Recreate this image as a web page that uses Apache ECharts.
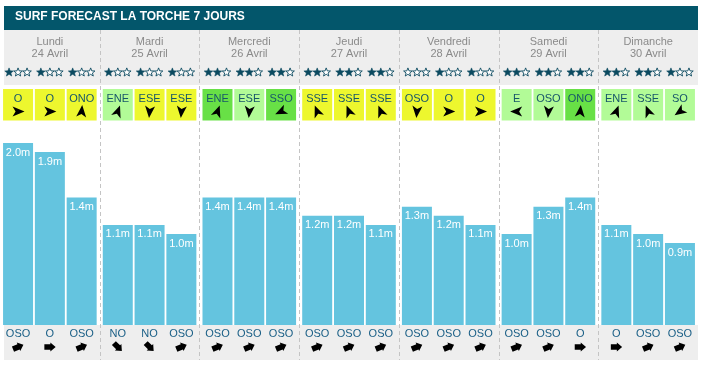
<!DOCTYPE html>
<html><head><meta charset="utf-8">
<script src="https://cdn.jsdelivr.net/npm/echarts@6/dist/echarts.min.js"></script>
<style>html,body{margin:0;padding:0;background:#fff}#c{width:702px;height:367px}</style>
</head><body><div id="c"></div>
<script>
// ---- data ----
const days  = ['Lundi','Mardi','Mercredi','Jeudi','Vendredi','Samedi','Dimanche'];
const dates = ['24 Avril','25 Avril','26 Avril','27 Avril','28 Avril','29 Avril','30 Avril'];
// wave height (m), three forecasts per day
const waveMatin = [2.0, 1.1, 1.4, 1.2, 1.3, 1.0, 1.1];
const waveMidi  = [1.9, 1.1, 1.4, 1.2, 1.2, 1.3, 1.0];
const waveSoir  = [1.4, 1.0, 1.4, 1.1, 1.1, 1.4, 0.9];
// star rating (filled stars out of 3)
const starsMatin = [1, 1, 2, 2, 0, 2, 2];
const starsMidi  = [1, 1, 2, 2, 1, 2, 2];
const starsSoir  = [1, 1, 2, 2, 1, 2, 1];
// wind direction
const windMatin = ['O','ENE','ENE','SSE','OSO','E','ENE'];
const windMidi  = ['O','ESE','ESE','SSE','O','OSO','SSE'];
const windSoir  = ['ONO','ESE','SSO','SSE','O','ONO','SO'];
// wind quality
const windQMatin = ['on','cross','off','on','on','cross','cross'];
const windQMidi  = ['on','on','cross','on','on','cross','cross'];
const windQSoir  = ['on','on','off','on','on','off','cross'];
// swell direction
const swellMatin = ['OSO','NO','OSO','OSO','OSO','OSO','O'];
const swellMidi  = ['O','NO','OSO','OSO','OSO','OSO','OSO'];
const swellSoir  = ['OSO','OSO','OSO','OSO','OSO','O','OSO'];

// ---- styles / mappings ----
const FONT = '"Liberation Sans", Arial, sans-serif';
const BAR_COLOR = '#64c4df';
const STAR_COLOR = '#0b4a60';
const BAR_W = 30, BAR_GAP = 0.06;
const SLOT_STEP = BAR_W * (1 + BAR_GAP);
const windColors = {on:'#edf72e', cross:'#b2fb97', off:'#68e046'};
const compass = {N:0,NNE:22.5,NE:45,ENE:67.5,E:90,ESE:112.5,SE:135,SSE:157.5,S:180,SSO:202.5,SO:225,OSO:247.5,O:270,ONO:292.5,NO:315,NNO:337.5};
// icon angles of the wind sprite (screen degrees, clockwise from right)
const windIcon = {O:0, ONO:-85, ENE:-70, ESE:95, SSO:155, SSE:-112, OSO:95, E:180, SO:145};
const DART = 'M6.5,0 L-5.5,-5 L-2.5,0 L-5.5,5 Z';
const FAT = 'M-5.5,-2.8 L0.5,-2.8 L0.5,-4.6 L5.8,0 L0.5,4.6 L0.5,2.8 L-5.5,2.8 Z';
// five-point star icon
const STAR_PTS = [];
for (let k = 0; k < 10; k++) {
  const r = k % 2 ? 1.9 : 4.5, a = -Math.PI / 2 + k * Math.PI / 5;
  STAR_PTS.push([r * Math.cos(a), r * Math.sin(a) + 0.4]);
}

const stars = [starsMatin, starsMidi, starsSoir];
const winds = [windMatin, windMidi, windSoir];
const windQs = [windQMatin, windQMidi, windQSoir];
const swells = [swellMatin, swellMidi, swellSoir];

const slots = [];
for (let d = 0; d < days.length; d++) {
  for (let s = 0; s < 3; s++) {
    slots.push({d, s, stars: stars[s][d], wind: winds[s][d], windQ: windQs[s][d], swell: swells[s][d]});
  }
}

function renderSlot(params, api) {
  const o = slots[params.dataIndex];
  const base = api.coord([api.value(0), 0]);
  const band = api.size([1, 0])[0];
  const cx = base[0] + (api.value(2) - 1) * SLOT_STEP;
  const swellAngle = ((compass[o.swell] + 180) % 360) - 90;
  const children = [];
  if (o.s === 0 && o.d > 0) {
    const lx = Math.round(base[0] - band / 2) + 0.5;
    children.push({type:'line', shape:{x1:lx, y1:30, x2:lx, y2:360}, style:{stroke:'#c4c4c4', lineWidth:1, lineDash:[4,3]}});
  }
  for (let k = 0; k < 3; k++) {
    const filled = k < o.stars;
    children.push({type:'polygon', x:cx + (k - 1) * 9, y:72, shape:{points:STAR_PTS},
      style:{fill: filled ? STAR_COLOR : '#ffffff', stroke:STAR_COLOR, lineWidth: filled ? 0.6 : 0.9}});
  }
  children.push(
    {type:'rect', shape:{x:cx - BAR_W/2, y:89, width:BAR_W, height:31.5}, style:{fill:windColors[o.windQ]}},
    {type:'text', x:cx, y:98.5, style:{text:o.wind, fill:'#17566a', fontSize:11, fontFamily:FONT, align:'center', verticalAlign:'middle'}},
    {type:'path', x:cx, y:111.5, rotation:-windIcon[o.wind] * Math.PI / 180, shape:{pathData:DART}, style:{fill:'#000'}},
    {type:'text', x:cx, y:333.5, style:{text:o.swell, fill:'#1a5f86', fontSize:11, fontFamily:FONT, align:'center', verticalAlign:'middle'}},
    {type:'path', x:cx, y:347, rotation:-swellAngle * Math.PI / 180, shape:{pathData:FAT}, style:{fill:'#000'}}
  );
  return {type:'group', children};
}

const barLabel = {show:true, position:'insideTop', distance:4, color:'#fff', fontSize:11, fontFamily:FONT, formatter: p => p.value.toFixed(1) + 'm'};
function barSeries(name, data) {
  return {name, type:'bar', data, barWidth:BAR_W, barGap:(BAR_GAP*100)+'%', itemStyle:{color:BAR_COLOR}, label:barLabel, silent:true};
}

const chart = echarts.init(document.getElementById('c'), null, {renderer:'canvas'});
chart.setOption({
  animation:false,
  title:{text:'SURF FORECAST LA TORCHE 7 JOURS', left:10, top:6, textStyle:{color:'#fff', fontSize:12, fontWeight:'bold', fontFamily:FONT}},
  graphic:[
    {type:'rect', z:-10, shape:{x:4, y:6, width:694, height:24}, style:{fill:'#03566b'}},
    {type:'rect', z:-10, shape:{x:4, y:30, width:694, height:55}, style:{fill:'#eeeeee'}},
    {type:'rect', z:-10, shape:{x:4, y:325, width:694, height:35}, style:{fill:'#eeeeee'}}
  ],
  grid:{left:0, right:4, top:30, bottom:7},
  xAxis:[
    {type:'category', data:days, gridIndex:0, position:'bottom',
     axisLine:{show:false}, axisTick:{show:false}, axisLabel:{show:false}, splitLine:{show:false}},
    {type:'category', data:days, gridIndex:0, position:'top',
     axisLine:{show:false}, axisTick:{show:false}, splitLine:{show:false},
     axisLabel:{inside:true, margin:5.5, color:'#8a8a8a', fontSize:11, lineHeight:12, fontFamily:FONT,
       formatter:(v, i) => v + '\n' + dates[i]}}
  ],
  yAxis:{type:'value', min:-0.385, max:3.242, show:false},
  series:[
    barSeries('Matin', waveMatin),
    barSeries('Midi', waveMidi),
    barSeries('Soir', waveSoir),
    {type:'custom', xAxisIndex:0, yAxisIndex:0, renderItem:renderSlot, silent:true,
     encode:{x:0, y:1}, data:slots.map(o => [o.d, 0, o.s])}
  ]
});
</script></body></html>
